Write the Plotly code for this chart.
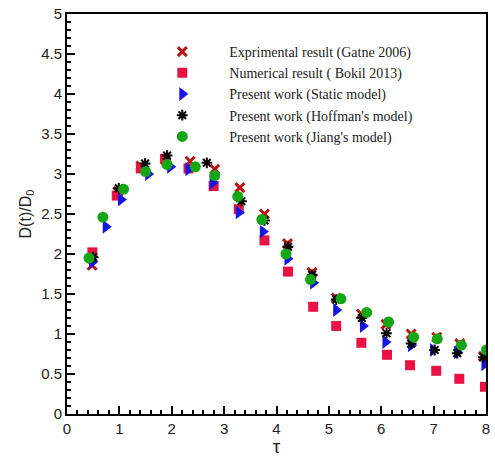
import plotly.graph_objects as go

# Experimental (Gatne 2006)
exp_x = [0.48, 0.97, 1.41, 1.88, 2.35, 2.82, 3.30, 3.77, 4.21, 4.68, 5.14, 5.62, 6.09, 6.57, 7.06, 7.50, 7.95]
exp_y = [1.86, 2.78, 3.10, 3.18, 3.16, 3.06, 2.83, 2.50, 2.13, 1.77, 1.45, 1.25, 1.12, 1.00, 0.96, 0.88, 0.72]

# Numerical (Bokil 2013)
num_x = [0.485, 0.95, 1.41, 1.87, 2.32, 2.80, 3.28, 3.77, 4.22, 4.70, 5.14, 5.62, 6.11, 6.55, 7.05, 7.49, 7.98]
num_y = [2.02, 2.73, 3.07, 3.19, 3.07, 2.85, 2.56, 2.17, 1.78, 1.34, 1.10, 0.89, 0.74, 0.61, 0.54, 0.44, 0.34]

# Present work (Static model)
sta_x = [0.48, 0.74, 1.03, 1.55, 1.97, 2.32, 2.78, 3.28, 3.74, 4.21, 4.70, 5.14, 5.65, 6.08, 6.57, 6.99, 7.45, 7.97]
sta_y = [1.90, 2.34, 2.68, 3.00, 3.09, 3.06, 2.89, 2.52, 2.28, 1.94, 1.64, 1.30, 1.10, 0.90, 0.86, 0.80, 0.77, 0.62]

# Present work (Hoffman's model)
hof_x = [0.50, 0.99, 1.49, 1.91, 2.67, 3.33, 3.77, 4.22, 4.68, 5.14, 5.63, 6.10, 6.57, 7.02, 7.45, 7.95]
hof_y = [1.96, 2.82, 3.13, 3.23, 3.14, 2.66, 2.42, 2.09, 1.74, 1.43, 1.20, 1.01, 0.88, 0.80, 0.76, 0.71]

# Present work (Jiang's model)
jia_x = [0.42, 0.685, 1.08, 1.50, 1.91, 2.45, 2.82, 3.26, 3.72, 4.18, 4.65, 5.23, 5.72, 6.14, 6.62, 7.07, 7.53, 8.01]
jia_y = [1.95, 2.46, 2.81, 3.03, 3.12, 3.09, 2.98, 2.72, 2.43, 2.00, 1.68, 1.44, 1.27, 1.15, 0.96, 0.94, 0.86, 0.80]

names = ["Exprimental result (Gatne 2006)", "Numerical result ( Bokil 2013)",
         "Present work (Static model)", "Present work (Hoffman's model)",
         "Present work (Jiang's model)"]

fig = go.Figure()
fig.add_trace(go.Scatter(x=exp_x, y=exp_y, mode="markers", name=names[0],
                         marker=dict(symbol="x-thin-open", size=9, color="#b81414",
                                     line=dict(width=3, color="#b81414"))))
fig.add_trace(go.Scatter(x=num_x, y=num_y, mode="markers", name=names[1],
                         marker=dict(symbol="square", size=10, color="#ea1244")))
fig.add_trace(go.Scatter(x=sta_x, y=sta_y, mode="markers", name=names[2],
                         marker=dict(symbol="triangle-right", size=12, color="#1414e6")))
fig.add_trace(go.Scatter(x=hof_x, y=hof_y, mode="markers", name=names[3],
                         marker=dict(symbol="asterisk-open", size=9, color="black",
                                     line=dict(width=2, color="black"))))
fig.add_trace(go.Scatter(x=jia_x, y=jia_y, mode="markers", name=names[4],
                         marker=dict(symbol="circle", size=11, color="#14a614")))

axis_common = dict(
    showline=True, linecolor="black", linewidth=2, mirror=True,
    ticks="inside", ticklen=8, tickwidth=2, tickcolor="black",
    showgrid=False, zeroline=False,
    tickfont=dict(family="Liberation Sans, Arial", size=15, color="#222"),
)

fig.update_xaxes(range=[0, 8], dtick=1, tick0=0,
                 minor=dict(ticks="inside", ticklen=4, tickwidth=2, tickcolor="black", dtick=0.2),
                 title=dict(text="τ", font=dict(family="Liberation Sans, Arial", size=19, color="#222"), standoff=2),
                 **axis_common)
fig.update_yaxes(range=[0, 5], dtick=0.5, tick0=0,
                 minor=dict(ticks="inside", ticklen=4, tickwidth=2, tickcolor="black", dtick=0.1),
                 title=dict(text="D(t)/D<sub>0</sub>", font=dict(family="Liberation Sans, Arial", size=16, color="#222"), standoff=6),
                 **axis_common)

fig.update_layout(
    width=495, height=457,
    margin=dict(l=67, r=5, t=12, b=39),
    plot_bgcolor="white", paper_bgcolor="white",
    showlegend=True,
    legend=dict(x=0.163, y=0.945, xanchor="left", yanchor="top",
                bgcolor="rgba(0,0,0,0)", borderwidth=0, itemwidth=84,
                font=dict(family="Liberation Serif, Times New Roman", size=14, color="#222"),
                tracegroupgap=0),
)

fig.write_html("out.html", config={"displayModeBar": False},
               post_script="document.body.style.margin='0';document.body.style.overflow='hidden';")
